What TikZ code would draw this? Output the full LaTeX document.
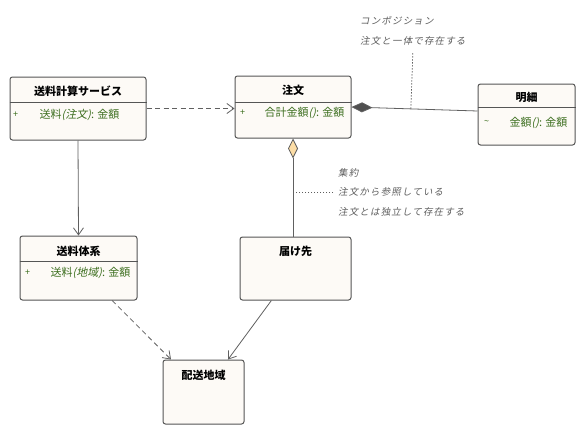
\documentclass[tikz,border=0pt]{standalone}
\usepackage{fontspec}
\setmainfont{Noto Sans CJK JP}
\newfontfamily\slantjp{Noto Sans CJK JP}[FakeSlant=0.2]
\newfontfamily\notejp{Noto Sans CJK JP}[FakeSlant=0.2,LetterSpace=12]
\definecolor{BoxLine}{HTML}{555555}
\definecolor{BoxFill}{HTML}{FDFAF6}
\definecolor{AttrGreen}{HTML}{3C6E1E}
\definecolor{NoteGray}{HTML}{5E5E5E}
\definecolor{LinkGray}{HTML}{606060}
\definecolor{DiamondGray}{HTML}{505050}
\definecolor{AggFill}{HTML}{FCDDA6}
\usetikzlibrary{arrows.meta,positioning}
\tikzset{
  classbox/.style={draw=BoxLine, line width=1pt, rounded corners=2.5pt, fill=BoxFill, inner sep=0pt},
  classTitle/.style={font=\fontsize{11}{12}\selectfont\bfseries, inner sep=0pt},
  attrText/.style={font=\fontsize{11}{12}\selectfont, text=AttrGreen, inner sep=0pt, anchor=west},
  visMark/.style={font=\fontsize{9}{10}\selectfont, text=AttrGreen, inner sep=0pt},
  sepline/.style={draw=BoxLine, line width=0.8pt},
  noteText/.style={font=\notejp\fontsize{9.5}{19.5}\selectfont, text=NoteGray, align=left, inner sep=0pt},
  depArrow/.style={-{Straight Barb[length=7pt,width=10pt]}, dash pattern=on 5pt off 3.5pt, draw=LinkGray, line width=0.8pt},
  assocArrow/.style={-{Straight Barb[length=7pt,width=10pt]}, draw=LinkGray, line width=0.8pt},
  compEdge/.style={{Diamond[length=21pt,width=10pt,fill=DiamondGray]}-, draw=LinkGray, line width=0.8pt},
  aggEdge/.style={{Diamond[length=20pt,width=10pt,fill=AggFill]}-, draw=LinkGray, line width=0.8pt},
  noteLink/.style={draw=NoteGray, dash pattern=on 1.5pt off 1.5pt, line width=0.7pt}
}

\begin{document}
\begin{tikzpicture}[x=1pt,y=-1pt]
\path[use as bounding box, fill=white] (0,0) rectangle (586,436);

% classes
\node[classbox, minimum width=136, minimum height=63] (svc) at (78,108.5) {};
\node[classTitle, below=9.5pt of svc.north] (svcTitle) {送料計算サービス};
\draw[sepline] ([yshift=-26pt]svc.north west) -- ([yshift=-26pt]svc.north east);
\node[visMark] (svcVis) at ([xshift=6pt,yshift=-38pt]svc.north west) {+};
\node[attrText] (svcAttr) at ([xshift=30pt,yshift=-38pt]svc.north west) {送料{\slantjp(注文)}: 金額};

\node[classbox, minimum width=116, minimum height=62] (order) at (293,107) {};
\node[classTitle, below=9.5pt of order.north] (orderTitle) {注文};
\draw[sepline] ([yshift=-27pt]order.north west) -- ([yshift=-27pt]order.north east);
\node[visMark] (orderVis) at ([xshift=8pt,yshift=-37pt]order.north west) {+};
\node[attrText] (orderAttr) at ([xshift=30pt,yshift=-37pt]order.north west) {合計金額{\slantjp()}: 金額};

\node[classbox, minimum width=97, minimum height=61] (detail) at (526.5,114.5) {};
\node[classTitle, below=8.5pt of detail.north] (detailTitle) {明細};
\draw[sepline] ([yshift=-24pt]detail.north west) -- ([yshift=-24pt]detail.north east);
\node[visMark] (detailVis) at ([xshift=9pt,yshift=-39pt]detail.north west) {\textasciitilde};
\node[attrText] (detailAttr) at ([xshift=32pt,yshift=-39pt]detail.north west) {金額{\slantjp()}: 金額};

\node[classbox, minimum width=117, minimum height=64] (rate) at (78.5,268) {};
\node[classTitle, below=10.5pt of rate.north] (rateTitle) {送料体系};
\draw[sepline] ([yshift=-26pt]rate.north west) -- ([yshift=-26pt]rate.north east);
\node[visMark] (rateVis) at ([xshift=8pt,yshift=-37pt]rate.north west) {+};
\node[attrText] (rateAttr) at ([xshift=31pt,yshift=-37pt]rate.north west) {送料{\slantjp(地域)}: 金額};

\node[classbox, minimum width=111, minimum height=63] (dest) at (295.5,268.5) {};
\node[classTitle, below=9.5pt of dest.north] (destTitle) {届け先};

\node[classbox, minimum width=81, minimum height=64] (area) at (203.5,392) {};
\node[classTitle, below=10.5pt of area.north] (areaTitle) {配送地域};

% notes
\node[noteText, anchor=north west] (compNote) at (360,16.5) {コンポジション\\注文と一体で存在する};
\node[noteText, anchor=north west] (aggNote) at (338,168) {集約\\注文から参照している\\注文とは独立して存在する};

% links
\draw[depArrow] (svc.east) -- (svc.east -| order.west);
\draw[assocArrow] (svc.south) -- (rate.north);
\draw[compEdge] (order.east) -- ([yshift=3.5pt]detail.west);
\draw[aggEdge] (order.south) -- (order.south |- dest.north);
\draw[depArrow] (rate.-44) -- (area.135);
\draw[assocArrow] (dest.233) -- (area.53);
\draw[noteLink] ([yshift=-8pt]compNote.south) -- ([xshift=-2pt,yshift=-2pt]compNote.south |- order.east);
\draw[noteLink] ([xshift=-5pt]aggNote.west) -- (aggNote.west -| order.south);
\end{tikzpicture}
\end{document}
